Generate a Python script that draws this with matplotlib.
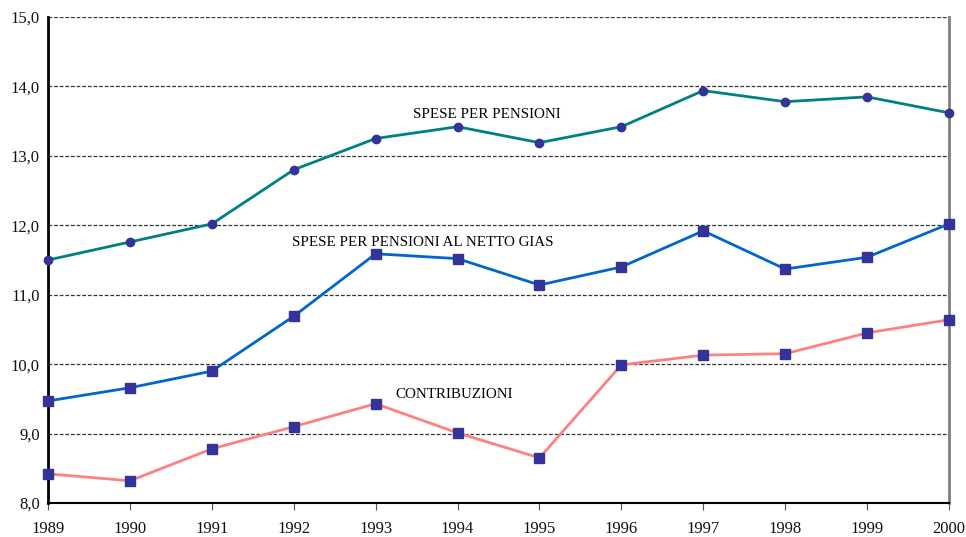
import matplotlib
matplotlib.use("Agg")
import matplotlib.pyplot as plt
from matplotlib.ticker import FuncFormatter

years = [1989, 1990, 1991, 1992, 1993, 1994, 1995, 1996, 1997, 1998, 1999, 2000]
spese = [11.50, 11.76, 12.02, 12.80, 13.25, 13.42, 13.19, 13.42, 13.94, 13.78, 13.85, 13.62]
netto_gias = [9.47, 9.66, 9.90, 10.69, 11.59, 11.52, 11.14, 11.40, 11.92, 11.37, 11.54, 12.02]
contribuzioni = [8.42, 8.32, 8.78, 9.10, 9.43, 9.01, 8.65, 9.99, 10.13, 10.15, 10.45, 10.64]

plt.rcParams['font.family'] = ['Liberation Serif', 'DejaVu Serif']

fig = plt.figure(figsize=(9.66, 5.37), dpi=100)
ax = fig.add_axes([0.0497, 0.0633, 0.9327, 0.905])

mcol = '#333399'
ax.plot(years, spese, color='#008080', lw=2, marker='o', ms=6, mfc=mcol, mec=mcol, zorder=5, clip_on=False)
ax.plot(years, netto_gias, color='#0066cc', lw=2, marker='s', ms=6.5, mfc=mcol, mec=mcol, zorder=5, clip_on=False)
ax.plot(years, contribuzioni, color='#ff8080', lw=2, marker='s', ms=6.5, mfc=mcol, mec=mcol, zorder=5, clip_on=False)

ax.text(1994.36, 13.59, 'SPESE PER PENSIONI', ha='center', va='center', fontsize=10.8)
ax.text(1993.57, 11.75, 'SPESE PER PENSIONI AL NETTO GIAS', ha='center', va='center', fontsize=10.8)
ax.text(1993.96, 9.57, 'CONTRIBUZIONI', ha='center', va='center', fontsize=10.8)

ax.set_xlim(1989, 2000)
ax.set_ylim(8, 15)
ax.set_xticks(years)
ax.set_yticks([8, 9, 10, 11, 12, 13, 14, 15])
ax.yaxis.set_major_formatter(FuncFormatter(lambda v, p: f'{v:.1f}'.replace('.', ',')))
ax.tick_params(axis='y', length=0, labelsize=12, pad=6)
ax.tick_params(axis='x', length=5, direction='out', labelsize=12, pad=8, color='#555555')
ax.yaxis.grid(True, linestyle=(0, (3, 1.5)), color='#333333', lw=0.9)
ax.set_axisbelow(True)

ax.spines['left'].set_linewidth(2)
ax.spines['left'].set_color('black')
ax.spines['bottom'].set_linewidth(1.5)
ax.spines['bottom'].set_color('black')
ax.spines['right'].set_linewidth(2)
ax.spines['right'].set_color('#808080')
ax.spines['top'].set_visible(False)
for lbl in ax.get_xticklabels() + ax.get_yticklabels():
    lbl.set_color('#111111')

fig.savefig('out.png', dpi=100)
